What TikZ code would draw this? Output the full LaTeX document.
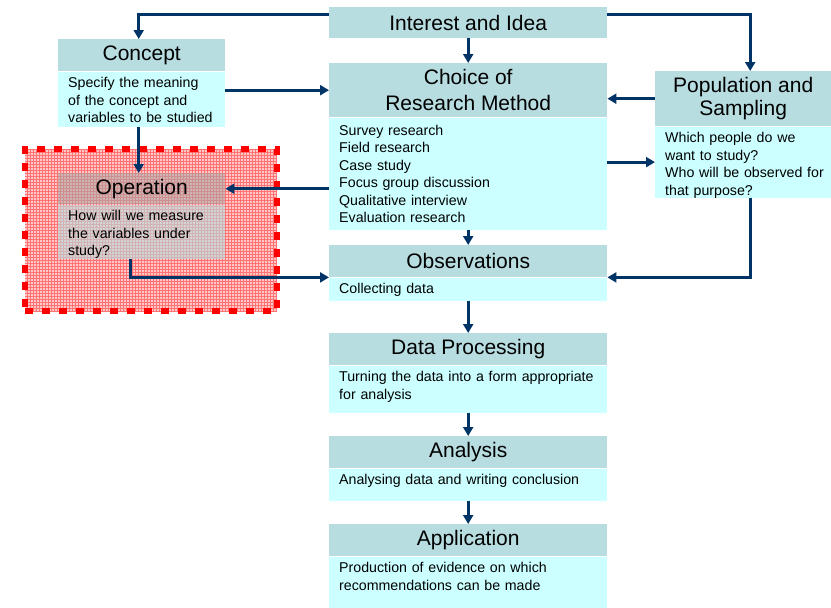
\documentclass[tikz,border=0pt]{standalone}
\usepackage{fontspec}
\setmainfont{Liberation Sans}
\usetikzlibrary{positioning,calc,patterns}
\usetikzlibrary{arrows.meta}
\definecolor{headcol}{RGB}{183,221,224}
\definecolor{bodycol}{RGB}{204,255,255}
\definecolor{arrowcol}{RGB}{0,51,102}
\tikzstyle{head} = [rectangle, fill=headcol, anchor=north west, inner sep=0pt, align=center, font=\fontsize{21}{23}\selectfont]
\tikzstyle{body} = [rectangle, fill=bodycol, anchor=north west, inner xsep=10pt, inner ysep=5pt, text height=11pt, align=left, font=\fontsize{14.2}{17.5}\selectfont]
\tikzstyle{highlight} = [rectangle, anchor=north west, draw=red, line width=6pt, dash pattern=on 8pt off 9pt, preaction={fill=red!22}, pattern=grid, pattern color=red!55]
\tikzstyle{arrow} = [line width=3pt, draw=arrowcol, -{Triangle[length=9pt,width=10pt]}]

\begin{document}
\begin{tikzpicture}[x=1pt,y=-1pt]
\useasboundingbox (0,0) rectangle (831,608);
% main column
\node[head, minimum width=278pt, minimum height=31pt] (interest) at (329,7) {Interest and Idea};
\node[head, minimum width=278pt, minimum height=54pt] (choice) at (329,63) {Choice of\\[3pt]Research Method};
\node[body, text width=258pt, minimum height=112pt, text height=12.5pt, text depth=89.5pt] (choicebody) at (choice.south west) {Survey research\\Field research\\Case study\\Focus group discussion\\Qualitative interview\\Evaluation research};
\node[head, minimum width=278pt, minimum height=32pt] (obs) at (329,245) {Observations};
\node[body, text width=258pt, minimum height=23pt, text depth=2pt] (obsbody) at (obs.south west) {Collecting data};
\node[head, minimum width=278pt, minimum height=32pt] (data) at (329,333) {Data Processing};
\node[body, text width=258pt, minimum height=47pt, text depth=26pt] (databody) at (data.south west) {Turning the data into a form appropriate\\for analysis};
\node[head, minimum width=278pt, minimum height=32pt] (analysis) at (329,436) {Analysis};
\node[body, text width=258pt, minimum height=32pt, text depth=11pt] (analysisbody) at (analysis.south west) {Analysing data and writing conclusion};
\node[head, minimum width=278pt, minimum height=32pt] (appl) at (329,524) {Application};
\node[body, text width=258pt, minimum height=52pt, text depth=31pt] (applbody) at (appl.south west) {Production of evidence on which\\recommendations can be made};
% side boxes
\node[head, minimum width=167pt, minimum height=32pt] (concept) at (58,39) {Concept};
\node[body, text width=147pt, minimum height=55pt, text depth=34pt] (conceptbody) at (concept.south west) {Specify the meaning\\of the concept and\\variables to be studied};
\node[head, minimum width=176pt, minimum height=55pt] (pop) at (655,71) {Population and\\Sampling};
\node[body, text width=156pt, minimum height=71pt, text depth=50pt] (popbody) at (pop.south west) {Which people do we\\want to study?\\\mbox{Who will be observed for}\\that purpose?};
\node[highlight, minimum width=252pt, minimum height=162pt] (opframe) at (22,146) {};
\node[head, fill=gray!70, fill opacity=0.55, text opacity=1, minimum width=167pt, minimum height=31pt] (oper) at (58,173) {Operation};
\node[body, fill=headcol, fill opacity=0.6, text opacity=1, text width=147pt, minimum height=54pt, text depth=33pt] (operbody) at (oper.south west) {How will we measure\\the variables under\\study?};
% connectors
\draw[arrow] ([yshift=8pt]interest.west) -| ([xshift=-3pt]concept.north);
\draw[arrow] ([yshift=8pt]interest.east) -| ([xshift=7pt]pop.north);
\draw[arrow] (interest) -- (choice);
\draw[arrow] (conceptbody.east |- choice.west) -- (choice.west);
\draw[arrow] (pop.west) -- (pop.west -| choice.east);
\draw[arrow] (choicebody.east |- popbody.west) -- (popbody.west);
\draw[arrow] (choicebody.west |- oper.east) -- (oper.east);
\draw[arrow] ([xshift=-3pt]conceptbody.south) -- ([xshift=-3pt]oper.north);
\draw[arrow] ([xshift=-11pt]operbody.south) |- (obs.south west);
\draw[arrow] ([xshift=7pt]popbody.south) |- (obs.south east);
\draw[arrow] (choicebody) -- (obs);
\draw[arrow] (obsbody) -- (data);
\draw[arrow] (databody) -- (analysis);
\draw[arrow] (analysisbody) -- (appl);
\end{tikzpicture}
\end{document}
